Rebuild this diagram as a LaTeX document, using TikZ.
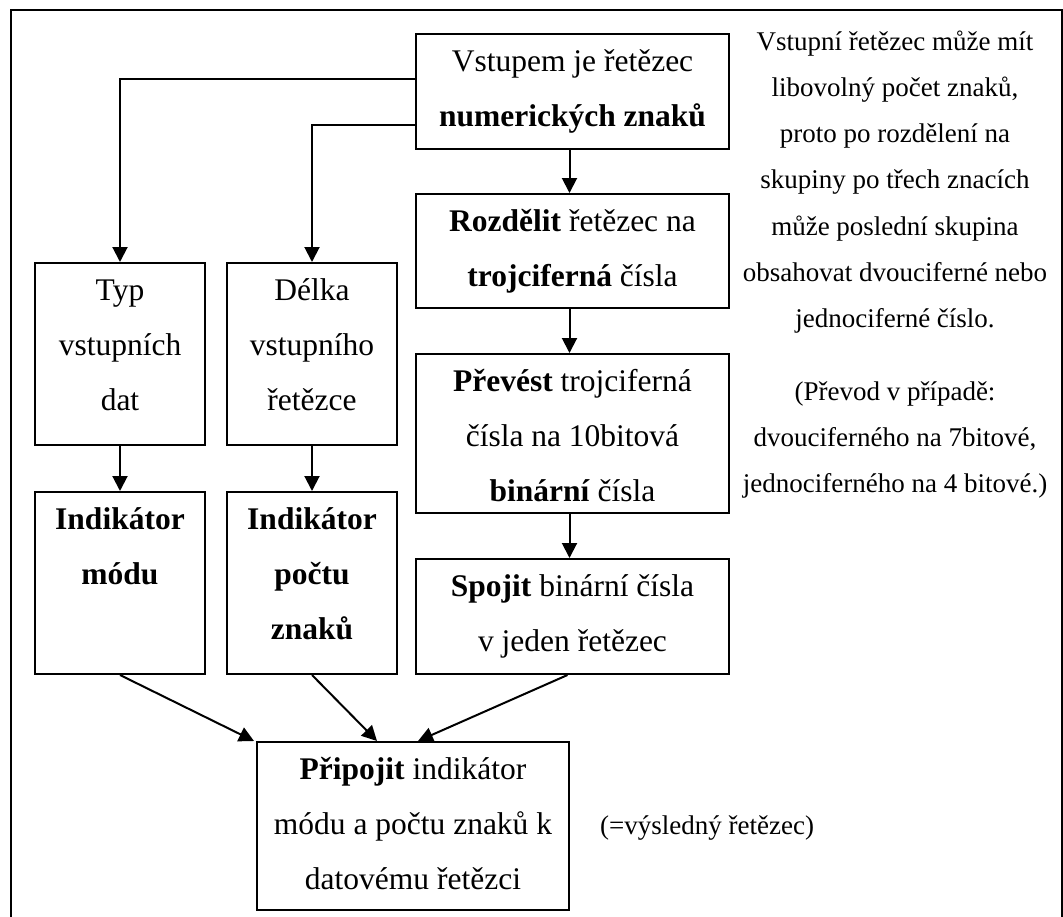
\documentclass[tikz,border=0pt]{standalone}
\usepackage{fontspec}
\setmainfont{Liberation Serif}
\usetikzlibrary{arrows.meta,calc}
\begin{document}
\begin{tikzpicture}[x=1pt,y=-1pt,
  boxst/.style={draw, line width=2pt, inner sep=0pt, anchor=north west},
  btxt/.style={font=\fontsize{31.5}{55}\selectfont, align=center, inner sep=0pt, anchor=north},
  stxt/.style={font=\fontsize{27}{46.2}\selectfont, align=center, inner sep=0pt, anchor=north},
  arr/.style={line width=2pt, -{Triangle[length=15pt,width=15pt]}}]
\useasboundingbox (0,0) rectangle (1063,916);
% outer frame (bottom edge lies outside the picture)
\draw[line width=2pt] (11,940) -- (11,10) -- (1062,10) -- (1062,940);
% boxes
\node[boxst, minimum width=313pt, minimum height=115pt] (vst) at (415,33) {};
\node[boxst, minimum width=313pt, minimum height=114pt] (roz) at (415,193) {};
\node[boxst, minimum width=313pt, minimum height=159pt] (pre) at (415,353) {};
\node[boxst, minimum width=313pt, minimum height=115pt] (spo) at (415,558) {};
\node[boxst, minimum width=170pt, minimum height=182pt] (typ) at (34,262) {};
\node[boxst, minimum width=170pt, minimum height=182pt] (del) at (226,262) {};
\node[boxst, minimum width=170pt, minimum height=182pt] (mod) at (34,491) {};
\node[boxst, minimum width=170pt, minimum height=182pt] (poc) at (226,491) {};
\node[boxst, minimum width=312pt, minimum height=168pt] (pri) at (256,741) {};
% box texts
\node[btxt] (vstT) at (vst.north) {\strut Vstupem je řetězec\\\textbf{numerických znaků}};
\node[btxt] (rozT) at (roz.north) {\strut\textbf{Rozdělit} řetězec na\\\textbf{trojciferná} čísla};
\node[btxt] (preT) at (pre.north) {\strut\textbf{Převést} trojciferná\\čísla na 10bitová\\\textbf{binární} čísla};
\node[btxt] (spoT) at (spo.north) {\strut\textbf{Spojit} binární čísla\\v jeden řetězec};
\node[btxt] (typT) at (typ.north) {\strut Typ\\vstupních\\dat};
\node[btxt] (delT) at (del.north) {\strut Délka\\vstupního\\řetězce};
\node[btxt] (modT) at (mod.north) {\strut\textbf{Indikátor}\\\textbf{módu}};
\node[btxt] (pocT) at (poc.north) {\strut\textbf{Indikátor}\\\textbf{počtu}\\\textbf{znaků}};
\node[btxt] (priT) at (pri.north) {\strut\textbf{Připojit} indikátor\\módu a počtu znaků k\\datovému řetězci};
% side notes
\node[stxt] (note1) at (895,17.7) {\strut Vstupní řetězec může mít\\libovolný počet znaků,\\proto po rozdělení na\\skupiny po třech znacích\\může poslední skupina\\obsahovat dvouciferné nebo\\jednociferné číslo.};
\node[stxt] (note2) at (895,367.7) {\strut(Převod v případě:\\dvouciferného na 7bitové,\\jednociferného na 4 bitové.)};
\node[font=\fontsize{27}{46.2}\selectfont, inner sep=0pt, anchor=base west] (res) at (600,834) {(=výsledný řetězec)};
% connectors
\coordinate (o1) at ($(vst.north west)+(0,46)$);
\coordinate (o2) at ($(vst.north west)+(0,92)$);
\draw[arr] (o1) -| (typ.north);
\draw[arr] (o2) -| (del.north);
\draw[arr] ($(vst.south)+(-3,0)$) -- ($(roz.north)+(-3,0)$);
\draw[arr] ($(roz.south)+(-3,0)$) -- ($(pre.north)+(-3,0)$);
\draw[arr] ($(pre.south)+(-3,0)$) -- ($(spo.north)+(-3,0)$);
\draw[arr] (typ.south) -- (mod.north);
\draw[arr] (del.south) -- (poc.north);
\coordinate (p1) at ($(pri.north west)+(-2,0)$);
\coordinate (p2) at ($(pri.north west)+(121,0)$);
\coordinate (p3) at ($(pri.north west)+(162,0)$);
\draw[arr] (mod.south) -- (p1);
\draw[arr] (poc.south) -- (p2);
\draw[arr] ($(spo.south)+(-5,0)$) -- (p3);
\end{tikzpicture}
\end{document}
